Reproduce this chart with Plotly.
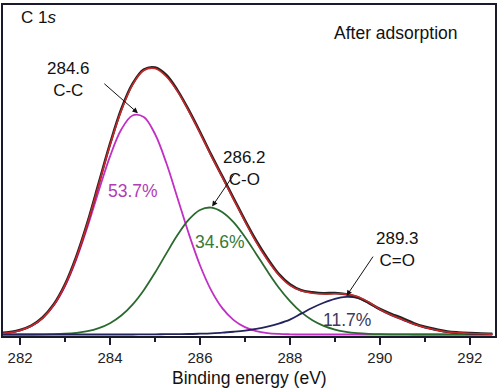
import plotly.graph_objects as go

# Binding energy grid (eV)
binding_energy = [281.5, 281.75, 282.0, 282.25, 282.5, 282.75, 283.0, 283.25, 283.5, 283.75,
                  284.0, 284.25, 284.5, 284.75, 285.0, 285.25, 285.5, 285.75, 286.0, 286.25,
                  286.5, 286.75, 287.0, 287.25, 287.5, 287.75, 288.0, 288.25, 288.5, 288.75,
                  289.0, 289.25, 289.5, 289.75, 290.0, 290.25, 290.5, 290.75, 291.0, 291.25,
                  291.5, 291.75, 292.0, 292.25, 292.5]

# Fitted components (arb. units)
cc_peak = [0.8, 1.8, 4.1, 8.5, 16.4, 29.4, 48.9, 75.7, 108.6, 144.9,
           179.5, 206.5, 220.7, 219.1, 202.0, 173.0, 137.6, 101.7, 69.8, 44.5,
           26.3, 14.5, 7.4, 3.5, 1.5, 0.6, 0.2, 0, 0, 0,
           0, 0, 0, 0, 0, 0, 0, 0, 0, 0,
           0, 0, 0, 0, 0]
co_peak = [0, 0, 0, 0, 0.1, 0.3, 0.8, 1.7, 3.3, 6.4,
           11.4, 19.1, 30.2, 44.7, 62.3, 81.5, 100.2, 115.7, 125.5, 127.9,
           123.3, 113.0, 98.3, 81.2, 63.7, 47.4, 33.6, 22.5, 14.4, 8.7,
           5.0, 2.7, 1.4, 0.7, 0.3, 0.15, 0.1, 0, 0, 0,
           0, 0, 0, 0, 0]
cdo_peak = [0, 0, 0, 0, 0, 0, 0, 0, 0, 0,
            0, 0, 0, 0.1, 0.2, 0.3, 0.4, 0.5, 0.8, 1.2,
            1.8, 2.8, 4.0, 5.7, 8.0, 11.0, 15.0, 21.0, 27.0, 32.0,
            36.0, 38.0, 37.0, 32.0, 25.0, 19.5, 15.0, 10.5, 7.0, 4.5,
            2.5, 1.6, 1.0, 0.7, 0.4]
envelope = [0.8, 1.8, 4.1, 8.5, 16.5, 29.7, 49.7, 77.4, 111.9, 151.3,
            190.9, 225.6, 251.5, 266, 268, 260, 245, 225, 203, 180,
            158, 136, 114, 93, 75, 60, 49.5, 44, 41.6, 40.8,
            41.0, 40.7, 38.4, 32.7, 25.3, 19.7, 15.1, 10.5, 7.0, 4.5,
            2.5, 1.6, 1.0, 0.7, 0.4]
experimental = [1.2, 2.3, 4.6, 9.0, 17.2, 30.5, 50.6, 78.5, 113, 152.5,
                192, 227, 252.5, 267, 269, 261.5, 246, 226, 204, 181,
                159, 137, 115, 94.5, 76.5, 61, 50.5, 44.5, 42.5, 41.5,
                41.8, 40.5, 37.5, 32.0, 25.8, 20.8, 16.5, 11.5, 7.8, 5.2,
                3.0, 2.0, 1.4, 1.0, 0.8]

x_ticks = [282, 284, 286, 288, 290, 292]

# Peak labels
peak_labels = ["284.6<br>C-C", "286.2<br>C-O", "289.3<br>C=O"]
pct_labels = ["53.7%", "34.6%", "11.7%"]

FONT = "Liberation Sans, Arial, sans-serif"

fig = go.Figure()

fig.add_trace(go.Scatter(x=binding_energy, y=cc_peak, mode="lines",
                         line=dict(color="#c12fc4", width=1.8, shape="spline")))
fig.add_trace(go.Scatter(x=binding_energy, y=co_peak, mode="lines",
                         line=dict(color="#2b6a2e", width=1.8, shape="spline")))
fig.add_trace(go.Scatter(x=binding_energy, y=cdo_peak, mode="lines",
                         line=dict(color="#23235e", width=1.8, shape="spline")))
fig.add_trace(go.Scatter(x=binding_energy, y=experimental, mode="lines",
                         line=dict(color="#222222", width=2.6, shape="spline")))
fig.add_trace(go.Scatter(x=binding_energy, y=envelope, mode="lines",
                         line=dict(color="#c8282a", width=1.6, shape="spline")))

annotations = []
# text labels
annotations.append(dict(x=282.4, y=319, text="C 1<i>s</i>", showarrow=False,
                        font=dict(size=17, color="#111111", family=FONT)))
annotations.append(dict(x=290.35, y=304, text="After adsorption", showarrow=False,
                        font=dict(size=17.5, color="#111111", family=FONT)))
annotations.append(dict(x=283.07, y=257, text=peak_labels[0], showarrow=False,
                        font=dict(size=17, color="#111111", family=FONT)))
annotations.append(dict(x=286.99, y=167, text=peak_labels[1], showarrow=False,
                        font=dict(size=17, color="#111111", family=FONT)))
annotations.append(dict(x=290.4, y=86, text=peak_labels[2], showarrow=False,
                        font=dict(size=17, color="#111111", family=FONT)))
annotations.append(dict(x=284.51, y=145, text=pct_labels[0], showarrow=False,
                        font=dict(size=17.5, color="#b13cb6", family=FONT)))
annotations.append(dict(x=286.44, y=93, text=pct_labels[1], showarrow=False,
                        font=dict(size=17.5, color="#357a35", family=FONT)))
annotations.append(dict(x=289.26, y=15, text=pct_labels[2], showarrow=False,
                        font=dict(size=17.5, color="#3a3a5c", family=FONT)))
# axis title
annotations.append(dict(x=0.5, y=-0.126, xref="paper", yref="paper",
                        text="Binding energy (eV)", showarrow=False,
                        xanchor="center", yanchor="middle",
                        font=dict(size=17.5, color="#111111", family=FONT)))
# arrows
arrows = [((283.84, 254), (284.62, 223)),
          ((286.78, 163), (286.27, 129)),
          ((289.87, 80), (289.26, 39))]
for (tx, ty), (hx, hy) in arrows:
    annotations.append(dict(x=hx, y=hy, ax=tx, ay=ty, xref="x", yref="y",
                            axref="x", ayref="y", text="", showarrow=True,
                            arrowhead=2, arrowsize=1.1, arrowwidth=1,
                            arrowcolor="#111111"))

fig.update_layout(
    width=500, height=389,
    margin=dict(l=3, r=5, t=3, b=53),
    paper_bgcolor="white", plot_bgcolor="white",
    showlegend=False,
    annotations=annotations,
    font=dict(family=FONT, color="#111111"),
)
fig.update_xaxes(
    range=[281.62, 292.56], tickvals=x_ticks, ticks="outside", ticklen=7,
    tickwidth=1.5, tickcolor="#1a1a2e",
    minor=dict(dtick=1, tick0=281, ticks="outside", ticklen=4, tickwidth=1.5,
               tickcolor="#1a1a2e", showgrid=False),
    showline=True, linecolor="#1a1a2e", linewidth=1.6, mirror=True,
    showgrid=False, zeroline=False,
    tickfont=dict(size=15, family=FONT, color="#222222"),
)
fig.update_yaxes(
    range=[-1.5, 332], showticklabels=False, ticks="",
    showline=True, linecolor="#1a1a2e", linewidth=1.6, mirror=True,
    showgrid=False, zeroline=False,
)

fig.write_html("out.html",
               config={"displayModeBar": False, "staticPlot": True},
               post_script="document.body.style.margin='0px';document.body.style.overflow='hidden';")
